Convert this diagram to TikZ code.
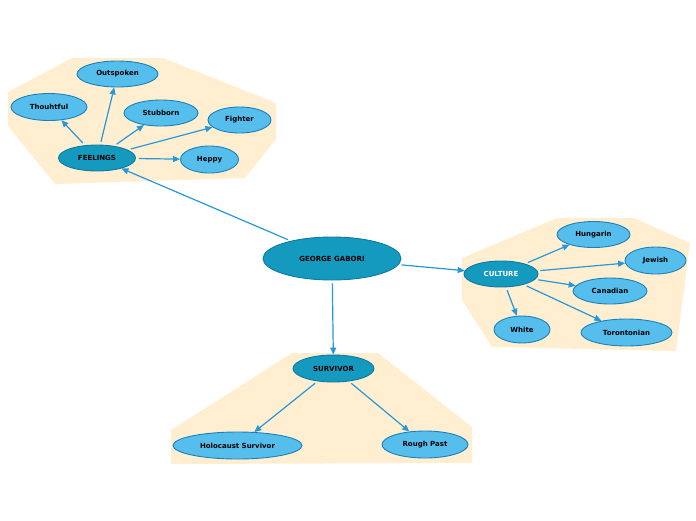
\documentclass[tikz,border=0pt]{standalone}
\usepackage{fontspec}
\setmainfont{DejaVu Sans}
\usetikzlibrary{shapes.geometric,arrows.meta}
\definecolor{bgzone}{RGB}{255,239,208}
\definecolor{leaffill}{RGB}{86,190,236}
\definecolor{leafline}{RGB}{28,128,184}
\definecolor{hubfill}{RGB}{20,153,191}
\definecolor{hubline}{RGB}{16,120,165}
\definecolor{edgecol}{RGB}{38,152,218}
\tikzset{
  leaf/.style={ellipse, draw=leafline, fill=leaffill, line width=0.9pt, inner sep=0pt,
    font=\fontsize{7}{8}\selectfont\bfseries, text=black},
  hub/.style={ellipse, draw=hubline, fill=hubfill, line width=0.9pt, inner sep=0pt,
    font=\fontsize{7}{8}\selectfont\bfseries, text=black},
  zone/.style={fill=bgzone, draw=none},
  link/.style={draw=edgecol, line width=1.2pt, shorten <=3pt,
    -{Triangle[length=7pt,width=6pt]}},
}
\begin{document}
\begin{tikzpicture}[x=1pt,y=-1pt]
\useasboundingbox (0,0) rectangle (696,520);
\fill[white] (0,0) rectangle (696,520);
% zones
\fill[zone] (8,92) -- (72,58) -- (163,58) -- (276,103) -- (276,139) -- (245,178) -- (55,184) -- (8,126) -- cycle;
\fill[zone] (462,258) -- (557,218) -- (634,218) -- (690,243) -- (676,351) -- (492,347) -- (462,300) -- cycle;
\fill[zone] (171,430) -- (292,353) -- (378,353) -- (472,427) -- (472,463) -- (171,464) -- cycle;
% nodes
\node[hub, minimum width=138pt, minimum height=43pt] (george) at (332,258.5) {GEORGE GABORI};
\node[hub, minimum width=77pt, minimum height=26pt] (feel) at (97,158) {FEELINGS};
\node[leaf, minimum width=81pt, minimum height=26pt] (outs) at (117.5,74) {Outspoken};
\node[leaf, minimum width=76pt, minimum height=27pt] (thou) at (49,107) {Thouhtful};
\node[leaf, minimum width=74pt, minimum height=26pt] (stub) at (161,113) {Stubborn};
\node[leaf, minimum width=63pt, minimum height=26pt] (figh) at (239.5,120) {Fighter};
\node[leaf, minimum width=58pt, minimum height=27pt] (hepp) at (209.5,159.5) {Heppy};
\node[hub, minimum width=74pt, minimum height=26pt, text=white] (cult) at (501,274) {CULTURE};
\node[leaf, minimum width=73pt, minimum height=26pt] (hung) at (593.5,234.5) {Hungarin};
\node[leaf, minimum width=61pt, minimum height=27pt] (jewi) at (655.5,260.5) {Jewish};
\node[leaf, minimum width=74pt, minimum height=26pt] (cana) at (610,291) {Canadian};
\node[leaf, minimum width=56pt, minimum height=27pt] (whit) at (522,329.5) {White};
\node[leaf, minimum width=91pt, minimum height=27pt] (toro) at (626.5,332.5) {Torontonian};
\node[hub, minimum width=81pt, minimum height=27pt] (surv) at (333.5,368.5) {SURVIVOR};
\node[leaf, minimum width=129pt, minimum height=27pt] (holo) at (237.5,445.5) {Holocaust Survivor};
\node[leaf, minimum width=86pt, minimum height=27pt] (roug) at (425,444.5) {Rough Past};
% links
\draw[link] (george) -- (feel);
\draw[link] (george) -- (cult);
\draw[link] (george) -- (surv);
\draw[link] (feel) -- (outs);
\draw[link] (feel) -- (thou);
\draw[link] (feel) -- (stub);
\draw[link] (feel) -- (figh);
\draw[link] (feel) -- (hepp);
\draw[link] (cult) -- (hung);
\draw[link] (cult) -- (jewi);
\draw[link] (cult) -- (cana);
\draw[link] (cult) -- (whit);
\draw[link] (cult) -- (toro);
\draw[link] (surv) -- (holo);
\draw[link] (surv) -- (roug);
\end{tikzpicture}
\end{document}
